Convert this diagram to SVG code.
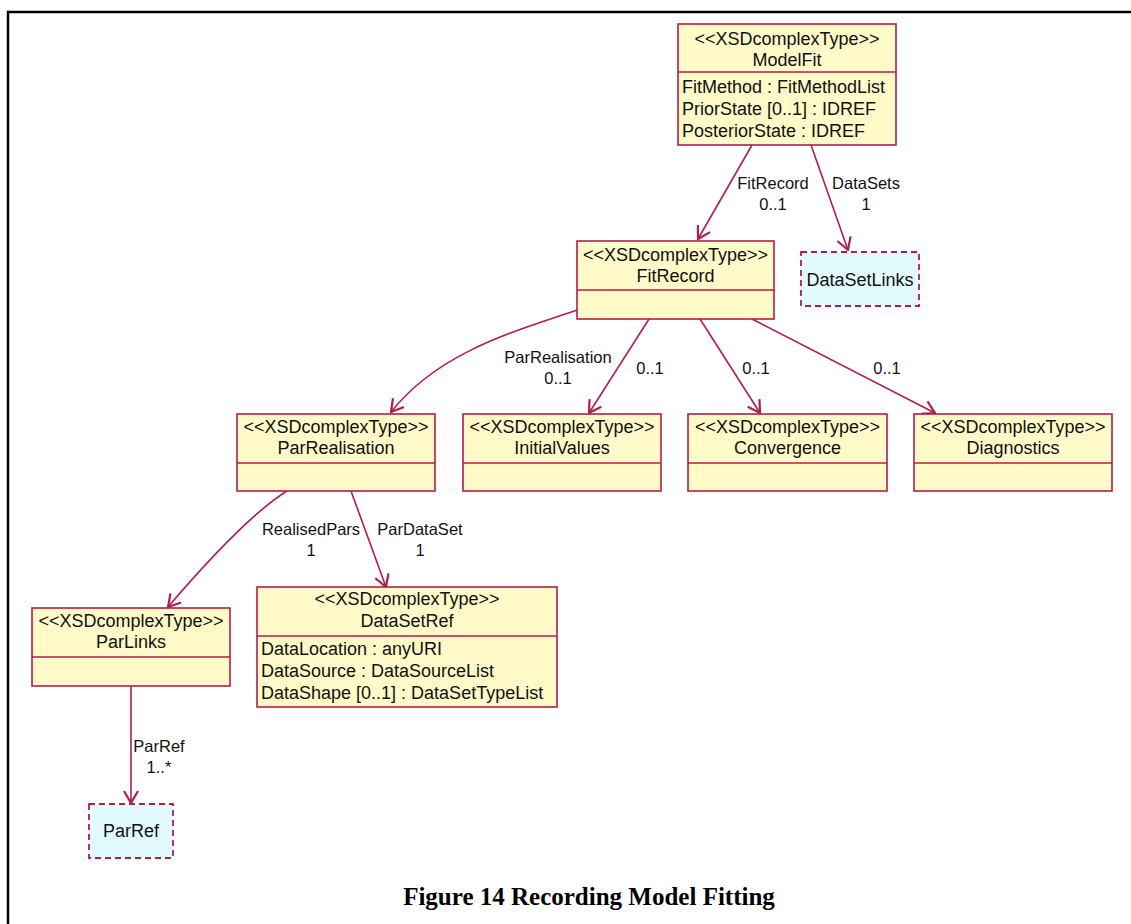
<svg xmlns="http://www.w3.org/2000/svg" width="1131" height="924" viewBox="0 0 1131 924">
  <style>
    .box { fill: #fffac8; stroke: #b01e4e; stroke-width: 1.6; }
    .ref { fill: #e2fbff; stroke: #b01e4e; stroke-width: 1.8; stroke-dasharray: 6 4; }
    .div { stroke: #b01e4e; stroke-width: 1.6; }
    .t { font-family: "Liberation Sans", Arial, sans-serif; font-size: 18px; fill: #111; }
    .c { text-anchor: middle; }
    .lbl { font-family: "Liberation Sans", Arial, sans-serif; font-size: 16.5px; fill: #111; text-anchor: middle; }
    .edge { fill: none; stroke: #b01e4e; stroke-width: 1.6; marker-end: url(#open); }
    .cap { font-family: "Liberation Serif", "Times New Roman", serif; font-size: 25px; font-weight: bold; fill: #000; text-anchor: middle; }
  </style>
  <defs>
    <marker id="open" viewBox="0 0 14 16" refX="13" refY="8" markerWidth="14" markerHeight="16" markerUnits="userSpaceOnUse" orient="auto">
      <path d="M1,1 L13,8 L1,15" fill="none" stroke="#b01e4e" stroke-width="2.2"/>
    </marker>
  </defs>

  <rect width="1131" height="924" fill="#fff"/>
  <!-- page frame -->
  <path d="M8,924 V12 H1131" fill="none" stroke="#000" stroke-width="2.5"/>

  <!-- connectors -->
  <g id="connectors">
    <path class="edge" d="M752,145 L698,239"/>
    <path class="edge" d="M811,145 L848,250"/>
    <path class="edge" d="M577,310 C520,330 440,350 391,412"/>
    <path class="edge" d="M649,319 L589,413"/>
    <path class="edge" d="M700,319 L760,413"/>
    <path class="edge" d="M752,319 L935,413"/>
    <path class="edge" d="M287,491 Q245,517 168,607"/>
    <path class="edge" d="M351,491 L386,587"/>
    <path class="edge" d="M131,686 L131,803"/>

    <text class="lbl" x="773" y="189">FitRecord</text>
    <text class="lbl" x="773" y="210">0..1</text>
    <text class="lbl" x="866" y="189">DataSets</text>
    <text class="lbl" x="866" y="210">1</text>
    <text class="lbl" x="558" y="363">ParRealisation</text>
    <text class="lbl" x="558" y="384">0..1</text>
    <text class="lbl" x="650" y="374">0..1</text>
    <text class="lbl" x="756" y="374">0..1</text>
    <text class="lbl" x="887" y="374">0..1</text>
    <text class="lbl" x="311" y="535">RealisedPars</text>
    <text class="lbl" x="311" y="556">1</text>
    <text class="lbl" x="420" y="535">ParDataSet</text>
    <text class="lbl" x="420" y="556">1</text>
    <text class="lbl" x="159" y="752">ParRef</text>
    <text class="lbl" x="159" y="773">1..*</text>
  </g>

  <g id="ModelFit">
    <rect class="box" x="678" y="24" width="218" height="121"/>
    <line class="div" x1="678" y1="72" x2="896" y2="72"/>
    <text class="t c" x="787" y="45">&lt;&lt;XSDcomplexType&gt;&gt;</text>
    <text class="t c" x="787" y="66">ModelFit</text>
    <text class="t" x="682" y="93">FitMethod : FitMethodList</text>
    <text class="t" x="682" y="115">PriorState [0..1] : IDREF</text>
    <text class="t" x="682" y="137">PosteriorState : IDREF</text>
  </g>

  <g id="FitRecord">
    <rect class="box" x="577" y="241" width="197" height="78"/>
    <line class="div" x1="577" y1="290" x2="774" y2="290"/>
    <text class="t c" x="675.5" y="261">&lt;&lt;XSDcomplexType&gt;&gt;</text>
    <text class="t c" x="675.5" y="282">FitRecord</text>
  </g>

  <g id="DataSetLinks">
    <rect class="ref" x="801" y="252" width="118" height="54"/>
    <text class="t c" x="860" y="286">DataSetLinks</text>
  </g>

  <g id="ParRealisation">
    <rect class="box" x="237" y="414" width="198" height="77"/>
    <line class="div" x1="237" y1="463" x2="435" y2="463"/>
    <text class="t c" x="336" y="433">&lt;&lt;XSDcomplexType&gt;&gt;</text>
    <text class="t c" x="336" y="454">ParRealisation</text>
  </g>

  <g id="InitialValues">
    <rect class="box" x="463" y="414" width="198" height="77"/>
    <line class="div" x1="463" y1="463" x2="661" y2="463"/>
    <text class="t c" x="562" y="433">&lt;&lt;XSDcomplexType&gt;&gt;</text>
    <text class="t c" x="562" y="454">InitialValues</text>
  </g>

  <g id="Convergence">
    <rect class="box" x="688" y="414" width="199" height="77"/>
    <line class="div" x1="688" y1="463" x2="887" y2="463"/>
    <text class="t c" x="787.5" y="433">&lt;&lt;XSDcomplexType&gt;&gt;</text>
    <text class="t c" x="787.5" y="454">Convergence</text>
  </g>

  <g id="Diagnostics">
    <rect class="box" x="914" y="414" width="198" height="77"/>
    <line class="div" x1="914" y1="463" x2="1112" y2="463"/>
    <text class="t c" x="1013" y="433">&lt;&lt;XSDcomplexType&gt;&gt;</text>
    <text class="t c" x="1013" y="454">Diagnostics</text>
  </g>

  <g id="ParLinks">
    <rect class="box" x="32" y="608" width="198" height="78"/>
    <line class="div" x1="32" y1="657" x2="230" y2="657"/>
    <text class="t c" x="131" y="627">&lt;&lt;XSDcomplexType&gt;&gt;</text>
    <text class="t c" x="131" y="648">ParLinks</text>
  </g>

  <g id="DataSetRef">
    <rect class="box" x="257" y="587" width="300" height="120"/>
    <line class="div" x1="257" y1="636" x2="557" y2="636"/>
    <text class="t c" x="407" y="605">&lt;&lt;XSDcomplexType&gt;&gt;</text>
    <text class="t c" x="407" y="627">DataSetRef</text>
    <text class="t" x="261" y="655">DataLocation : anyURI</text>
    <text class="t" x="261" y="677">DataSource : DataSourceList</text>
    <text class="t" x="261" y="699">DataShape [0..1] : DataSetTypeList</text>
  </g>

  <g id="ParRef">
    <rect class="ref" x="89" y="804" width="84" height="54"/>
    <text class="t c" x="131" y="837">ParRef</text>
  </g>

  <text class="cap" x="589" y="905">Figure 14 Recording Model Fitting</text>
</svg>
